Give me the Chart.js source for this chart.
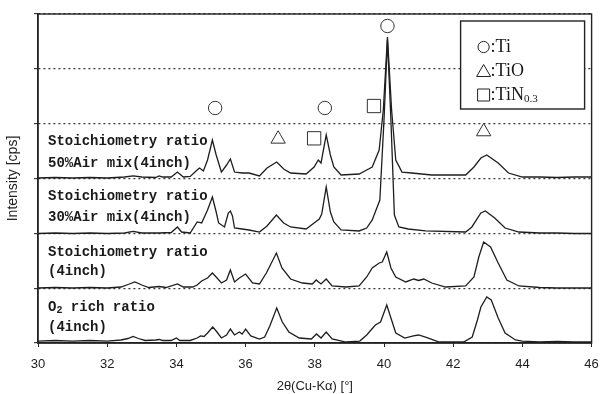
<!DOCTYPE html>
<html>
<head>
<meta charset="utf-8">
<script src="https://cdn.jsdelivr.net/npm/chart.js@4"></script>
<style>
  html, body { margin: 0; padding: 0; background: #fff; }
</style>
</head>
<body>
<canvas id="xrdChart" width="602" height="394"></canvas>
<script>
// 2theta [deg] and stacked intensity (each pattern offset by 100)
const o2X = [30.0,30.5,31.0,31.5,32.0,32.4,32.6,32.75,32.9,33.1,33.4,33.5,33.6,33.85,34.0,34.1,34.4,34.6,34.7,34.8,34.9,35.05,35.15,35.3,35.45,35.56,35.68,35.82,35.9,36.0,36.15,36.4,36.55,36.7,36.9,37.06,37.25,37.55,37.9,38.05,38.18,38.33,38.5,38.9,39.3,39.5,39.75,39.9,40.08,40.2,40.34,40.6,40.85,41.0,41.2,41.6,42.3,42.55,42.7,42.8,42.97,43.1,43.3,43.5,43.8,44.0,44.5,45.0,45.5,46.0];
const o2Y = [3.6,4.6,3.6,4.6,3.6,5.5,8.2,11.9,8.2,4.6,5.5,6.4,4.6,4.6,9.1,4.6,4.6,9.1,12.8,11.9,18.2,29.2,21.9,9.1,14.6,25.5,14.6,20.1,16.4,25.5,12.8,7.3,10.9,31.0,63.8,38.3,20.1,9.1,7.3,16.4,9.1,20.1,7.3,1.8,3.6,14.6,32.8,38.3,69.3,45.6,18.2,9.1,12.8,14.6,10.9,1.8,1.8,10.9,41.9,65.7,83.9,78.4,45.6,18.2,5.5,3.6,1.8,2.7,1.8,1.8];

const stX = [30.0,30.5,31.0,31.5,32.0,32.4,32.6,32.8,33.0,33.2,33.5,33.7,34.03,34.2,34.47,34.6,34.73,34.9,35.04,35.15,35.3,35.45,35.56,35.68,35.82,36.0,36.2,36.4,36.6,36.89,37.05,37.3,37.64,37.93,38.04,38.18,38.33,38.5,38.9,39.28,39.5,39.66,39.86,39.95,40.08,40.2,40.34,40.63,40.86,41.0,41.15,41.38,41.78,42.36,42.6,42.74,42.88,43.08,43.3,43.55,43.9,44.5,45.0,45.5,46.0];
const stY = [100.3,101.2,100.3,101.2,100.3,102.1,106.7,111.3,105.8,101.2,103.0,101.2,107.6,102.1,102.1,105.8,113.1,118.5,127.7,120.4,109.4,114.9,133.1,111.3,118.5,125.8,109.4,107.6,127.7,164.1,136.8,116.7,109.4,107.6,114.9,107.6,116.7,104.0,102.1,104.0,120.4,136.8,145.9,147.7,166.0,136.8,120.4,111.3,116.7,114.0,116.7,109.4,102.1,104.0,120.4,156.8,184.2,175.1,145.9,114.9,104.0,101.2,100.3,100.3,100.3];

const a30X = [30.0,30.5,31.0,31.5,32.0,32.5,32.75,33.0,33.5,33.85,34.03,34.15,34.4,34.6,34.73,34.9,35.04,35.15,35.22,35.39,35.5,35.56,35.62,35.68,35.9,36.1,36.4,36.62,36.89,37.1,37.3,37.75,37.98,38.13,38.2,38.33,38.45,38.55,38.76,39.28,39.5,39.66,39.88,40.0,40.1,40.2,40.3,40.43,40.7,41.2,42.36,42.54,42.8,42.93,43.2,43.5,43.9,44.5,45.0,45.5,46.0];
const a30Y = [199.7,200.6,199.7,200.6,199.7,200.6,203.4,200.6,200.6,201.5,211.6,202.4,200.6,220.7,218.9,242.6,266.3,238.9,218.9,211.6,237.1,240.7,231.6,209.7,207.9,206.1,202.4,213.4,233.4,218.9,211.6,207.9,218.9,226.1,235.3,284.5,238.9,220.7,206.1,204.3,209.7,224.4,260.8,406.7,552.6,406.7,233.4,211.6,207.9,204.3,202.4,211.6,237.1,240.7,228.0,209.7,202.4,200.6,200.6,199.7,199.7];

const a50X = [30.0,30.5,31.0,31.5,32.0,32.5,32.75,33.0,33.4,33.5,33.6,33.85,34.03,34.2,34.4,34.6,34.67,34.78,34.9,35.04,35.15,35.3,35.45,35.56,35.68,35.9,36.1,36.4,36.62,36.9,37.1,37.3,37.75,37.98,38.1,38.18,38.33,38.45,38.55,38.76,39.28,39.5,39.66,39.86,39.98,40.1,40.22,40.34,40.52,40.8,41.38,42.36,42.6,42.8,42.97,43.3,43.6,44.0,44.5,45.0,45.5,46.0];
const a50Y = [300.9,301.8,300.9,301.8,300.9,302.7,304.6,302.7,301.8,304.6,302.7,302.7,311.8,302.7,303.7,315.5,319.2,313.7,333.8,370.2,342.9,311.8,324.6,335.6,311.8,310.0,310.0,304.6,319.2,330.1,317.3,310.0,308.2,321.0,333.8,328.3,379.4,342.9,321.0,306.4,308.2,315.5,321.0,352.0,424.9,558.1,424.9,333.8,311.8,310.0,306.4,306.4,321.0,337.4,342.9,328.3,310.0,302.7,302.7,301.8,302.7,302.7];

const xTicks = [30, 32, 34, 36, 38, 40, 42, 44, 46];

// phase markers above the peaks
const markerX = [35.12, 38.29, 40.10, 36.94, 42.88, 37.98, 39.71];
const markerY = [428.6, 428.6, 578.1, 372.0, 385.5, 373.3, 432.2];
const markerStyle = ['circle', 'circle', 'circle', 'triangle', 'triangle', 'rect', 'rect'];
const markerSize = [6.7, 6.7, 6.7, 8.3, 8.3, 9.4, 9.4];

// sample captions (~x~ = subscript)
const sampleLabels = [
  ['Stoichiometry ratio', '50%Air mix(4inch)'],
  ['Stoichiometry ratio', '30%Air mix(4inch)'],
  ['Stoichiometry ratio', '(4inch)'],
  ['O~2~ rich ratio', '(4inch)']
];
const sampleLabelY = [[367, 327], [267, 229], [166, 131], [64, 29]];
const sampleLabelX = 30.29;

const phaseNames = ['Ti', 'TiO', 'TiN~0.3~'];
const phaseSymbols = ['circle', 'triangle', 'rect'];

function pts(xs, ys) {
  return xs.map((x, i) => ({ x: x, y: ys[i] }));
}

function drawRich(ctx, text, x, y, font, subFont, subDrop) {
  const parts = text.split('~');
  let cx = x;
  parts.forEach((p, i) => {
    if (!p) return;
    ctx.font = i % 2 ? subFont : font;
    ctx.fillText(p, cx, y + (i % 2 ? subDrop : 0));
    cx += ctx.measureText(p).width;
  });
}

function drawSymbol(ctx, kind, x, y) {
  ctx.beginPath();
  if (kind === 'circle') {
    ctx.arc(x, y, 5.6, 0, Math.PI * 2);
  } else if (kind === 'triangle') {
    ctx.moveTo(x, y - 6.5);
    ctx.lineTo(x + 7, y + 5.5);
    ctx.lineTo(x - 7, y + 5.5);
    ctx.closePath();
  } else {
    ctx.rect(x - 6, y - 6, 12, 12);
  }
  ctx.stroke();
}

const decor = {
  id: 'decor',
  afterDatasetsDraw(chart) {
    const { ctx, chartArea } = chart;
    const xs = chart.scales.x, ys = chart.scales.y;
    ctx.save();
    ctx.setLineDash([]);
    ctx.strokeStyle = '#222';
    ctx.lineWidth = 1.4;
    ctx.strokeRect(chartArea.left, chartArea.top, chartArea.right - chartArea.left, chartArea.bottom - chartArea.top);

    ctx.fillStyle = '#1a1a1a';
    ctx.textBaseline = 'middle';
    ctx.textAlign = 'left';
    sampleLabels.forEach((lines, i) => {
      lines.forEach((line, j) => {
        drawRich(ctx, line, xs.getPixelForValue(sampleLabelX), ys.getPixelForValue(sampleLabelY[i][j]),
          'bold 14px "Liberation Mono"', 'bold 10px "Liberation Mono"', 3);
      });
    });

    // phase key box
    const bw = 124, bh = 88;
    const bx = chartArea.right - 7 - bw, by = chartArea.top + 7;
    ctx.fillStyle = '#fff';
    ctx.fillRect(bx, by, bw, bh);
    ctx.lineWidth = 1.4;
    ctx.strokeRect(bx, by, bw, bh);
    ctx.lineWidth = 1;
    ctx.fillStyle = '#1a1a1a';
    phaseNames.forEach((name, i) => {
      const ry = by + 26 + i * 24;
      drawSymbol(ctx, phaseSymbols[i], bx + 23, ry);
      drawRich(ctx, ':' + name, bx + 30, ry, '18px "Liberation Serif"', '11px "Liberation Serif"', 4);
    });
    ctx.restore();
  }
};

const lineStyle = {
  borderColor: '#1e1e1e',
  borderWidth: 1.3,
  pointRadius: 0,
  tension: 0,
  fill: false,
  showLine: true
};

const ctx = document.getElementById('xrdChart').getContext('2d');
const xrdChart = new Chart(ctx, {
  type: 'scatter',
  data: {
    datasets: [
      Object.assign({ label: 'O2 rich ratio (4inch)', data: pts(o2X, o2Y) }, lineStyle),
      Object.assign({ label: 'Stoichiometry ratio (4inch)', data: pts(stX, stY) }, lineStyle),
      Object.assign({ label: 'Stoichiometry ratio 30%Air mix(4inch)', data: pts(a30X, a30Y) }, lineStyle),
      Object.assign({ label: 'Stoichiometry ratio 50%Air mix(4inch)', data: pts(a50X, a50Y) }, lineStyle),
      {
        label: 'markers',
        data: pts(markerX, markerY),
        showLine: false,
        pointStyle: markerStyle,
        pointRadius: markerSize,
        pointBackgroundColor: '#fff',
        pointBorderColor: '#333',
        pointBorderWidth: 1,
        clip: false
      }
    ]
  },
  options: {
    responsive: false,
    animation: false,
    layout: { padding: { top: 14, right: 9, left: 0, bottom: 0 } },
    plugins: {
      legend: { display: false },
      tooltip: { enabled: false }
    },
    scales: {
      x: {
        type: 'linear',
        min: 30,
        max: 46,
        afterBuildTicks: (scale) => { scale.ticks = xTicks.map(v => ({ value: v })); },
        afterFit: (scale) => {
          scale.height = 51;
          scale.paddingLeft = 0;
          scale.paddingRight = 0;
        },
        grid: { drawOnChartArea: false, drawTicks: true, tickLength: 4, color: '#222' },
        border: { color: '#222', width: 1.4 },
        ticks: { padding: 10, color: '#222', font: { family: 'Liberation Sans', size: 13 } },
        title: {
          display: true,
          text: '2θ(Cu-Kα) [°]',
          color: '#222',
          font: { family: 'Liberation Sans', size: 13 },
          padding: { top: 0, bottom: 0 }
        }
      },
      y: {
        min: 0,
        max: 600,
        afterFit: (scale) => { scale.width = 38; },
        ticks: { stepSize: 100, display: false },
        grid: { color: '#3a3a3a', lineWidth: 1.2, drawTicks: true, tickLength: 4, tickBorderDash: [] },
        border: { display: true, color: '#222', width: 1.4, dash: [2, 3] },
        title: {
          display: true,
          text: 'Intensity [cps]',
          color: '#222',
          font: { family: 'Liberation Sans', size: 14 },
          padding: { top: 5, bottom: 4 }
        }
      }
    }
  },
  plugins: [decor]
});
</script>
</body>
</html>
